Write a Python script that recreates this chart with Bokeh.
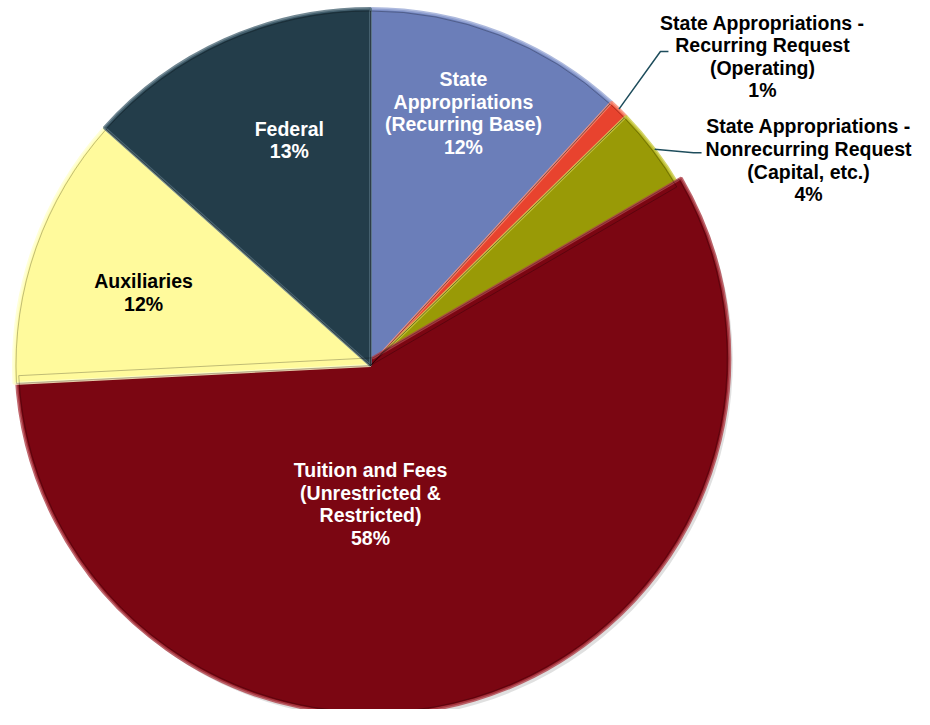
import math
from bokeh.plotting import figure
from bokeh.models import Range1d, ColumnDataSource
from bokeh.embed import file_html
from bokeh.resources import INLINE
from bokeh.core.properties import value

# ---------------- data ----------------
categories = [
    "State Appropriations (Recurring Base)",
    "State Appropriations - Recurring Request (Operating)",
    "State Appropriations - Nonrecurring Request (Capital, etc.)",
    "Tuition and Fees (Unrestricted & Restricted)",
    "Auxiliaries",
    "Federal",
]
label_names = [
    "State\nAppropriations\n(Recurring Base)",
    "State Appropriations -\nRecurring Request\n(Operating)",
    "State Appropriations -\nNonrecurring Request\n(Capital, etc.)",
    "Tuition and Fees\n(Unrestricted &\nRestricted)",
    "Auxiliaries",
    "Federal",
]
shares = [11.8, 0.9, 3.9, 57.6, 12.4, 13.4]

# ---------------- style ----------------
colors = ["#6B7EB9", "#E8432E", "#999A06", "#7B0612", "#FFFA9C", "#233D4A"]
edge_colors = ["#9AA9D6", "#F7876F", "#C9CA45", "#B0414A", "#FFFFD0", "#4F6A78"]
text_colors = ["white", "black", "black", "white", "black", "white"]
explode = [0, 0, 0, 8, 0, 0]
# label placement: angle clockwise from 12 o'clock (deg), distance as fraction of radius
label_angle = [20.2, 51.75, 64.9, 180.0, 287.9, 340.2]
label_rfrac = [0.754, 1.398, 1.355, 0.388, 0.668, 0.671]
external = [False, True, True, False, False, False]
leader_hook = {1: (-102, 5, -94), 2: (-115, 7.5, -107)}

W, H = 914, 709
cx, cy, R = 370.0, -365.0, 357.0

p = figure(width=W, height=H, output_backend="svg", toolbar_location=None,
           x_range=Range1d(0, W), y_range=Range1d(-H, 0),
           min_border=0, outline_line_color=None)
p.axis.visible = False
p.grid.visible = False
p.background_fill_color = "white"
p.border_fill_color = "white"

total = sum(shares)
cum = 0.0
wx, wy, starts, ends, mids = [], [], [], [], []
for i, s in enumerate(shares):
    t1 = cum / total * 360.0
    cum += s
    t2 = cum / total * 360.0
    tm = (t1 + t2) / 2
    mids.append(tm)
    ox = explode[i] * math.sin(math.radians(tm))
    oy = explode[i] * math.cos(math.radians(tm))
    wx.append(cx + ox)
    wy.append(cy - oy)
    starts.append(math.radians(90 - t2))
    ends.append(math.radians(90 - t1))

src = ColumnDataSource(dict(x=wx, y=wy, start=starts, end=ends, color=colors,
                            edge=edge_colors, name=categories))
# soft shadow
p.wedge(x=[v + 3 for v in wx], y=[v - 4 for v in wy], radius=R, start_angle=starts,
        end_angle=ends, fill_color="#000000", fill_alpha=0.12, line_color=None)
p.wedge(x="x", y="y", radius=R, start_angle="start", end_angle="end", source=src,
        fill_color="color", line_color="edge", line_width=3, line_alpha=0.8)
p.wedge(x="x", y="y", radius=R - 2.5, start_angle="start", end_angle="end", source=src,
        fill_color=None, line_color="#000000", line_width=1, line_alpha=0.25)

# labels
lx, ly, lt, lc = [], [], [], []
for i, s in enumerate(shares):
    pct = f"{round(s / total * 100)}%"
    a = math.radians(label_angle[i])
    x = cx + label_rfrac[i] * R * math.sin(a)
    y = cy + label_rfrac[i] * R * math.cos(a)
    lx.append(x)
    ly.append(y)
    lt.append(label_names[i] + "\n" + pct)
    lc.append(text_colors[i])
    if external[i]:
        m = math.radians(mids[i])
        sx = cx + R * math.sin(m)
        sy = cy + R * math.cos(m)
        dx1, dy1, dx2 = leader_hook[i]
        p.line(x=[sx, x + dx1, x + dx2], y=[sy, y + dy1, y + dy1],
               line_color="#1E4D5C", line_width=1.5)

p.text(x=lx, y=ly, text=lt, text_color=lc, text_align="center",
       text_baseline="middle", text_font=value("Liberation Sans"),
       text_font_style="bold", text_font_size="19.5px", text_line_height=1.03)

open("out.html", "w").write(file_html(p, INLINE))
